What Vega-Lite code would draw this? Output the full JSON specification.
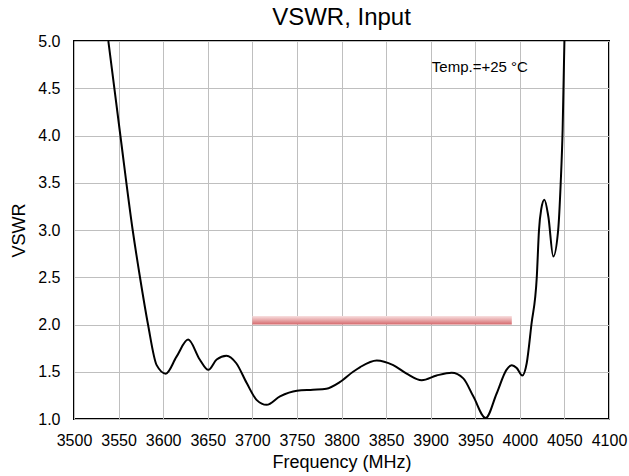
{
  "$schema": "https://vega.github.io/schema/vega-lite/v6.json",
  "autosize": {"type": "none"},
  "width": 535,
  "height": 378,
  "padding": {"left": 74, "top": 41, "right": 20, "bottom": 57},
  "background": "white",
  "title": {"text": "VSWR, Input", "font": "Liberation Sans", "fontSize": 24, "fontWeight": "normal", "color": "black", "offset": 3, "anchor": "middle"},
  "config": {
    "view": {"stroke": "black", "strokeWidth": 2},
    "axis": {"labelFont": "Liberation Sans", "titleFont": "Liberation Sans", "labelColor": "black", "titleColor": "black", "gridColor": "#bfbfbf", "gridWidth": 1, "ticks": false, "domain": false, "labelFontSize": 16, "titleFontSize": 18, "titleFontWeight": "normal"}
  },
  "datasets": {
    "curve": [
      {"f": 3538.5, "v": 5.0}, {"f": 3552, "v": 4.0}, {"f": 3565.8, "v": 3.0}, {"f": 3574, "v": 2.5},
      {"f": 3583, "v": 2.0}, {"f": 3592.7, "v": 1.57}, {"f": 3603, "v": 1.48}, {"f": 3615, "v": 1.66},
      {"f": 3628, "v": 1.84}, {"f": 3641, "v": 1.63}, {"f": 3650.6, "v": 1.52}, {"f": 3660, "v": 1.63},
      {"f": 3671, "v": 1.67}, {"f": 3682, "v": 1.59}, {"f": 3693.7, "v": 1.38}, {"f": 3705, "v": 1.2},
      {"f": 3716, "v": 1.15}, {"f": 3731, "v": 1.24}, {"f": 3750, "v": 1.3}, {"f": 3768, "v": 1.31},
      {"f": 3783, "v": 1.32}, {"f": 3798, "v": 1.39}, {"f": 3813, "v": 1.5}, {"f": 3821, "v": 1.55},
      {"f": 3839.5, "v": 1.62}, {"f": 3858, "v": 1.57}, {"f": 3873, "v": 1.48}, {"f": 3890, "v": 1.41},
      {"f": 3906.7, "v": 1.46}, {"f": 3923.5, "v": 1.49}, {"f": 3936.6, "v": 1.43}, {"f": 3947.8, "v": 1.24},
      {"f": 3961.7, "v": 1.01}, {"f": 3974, "v": 1.27}, {"f": 3985, "v": 1.52}, {"f": 3991, "v": 1.57},
      {"f": 3996.5, "v": 1.54}, {"f": 4002.8, "v": 1.46}, {"f": 4007.7, "v": 1.59}, {"f": 4013, "v": 2.0},
      {"f": 4019, "v": 2.5}, {"f": 4021.5, "v": 3.0}, {"f": 4024, "v": 3.22}, {"f": 4027.5, "v": 3.32},
      {"f": 4032, "v": 3.14}, {"f": 4037.5, "v": 2.72}, {"f": 4043, "v": 3.0}, {"f": 4045.8, "v": 3.49},
      {"f": 4048, "v": 4.06}, {"f": 4050, "v": 5.0}
    ],
    "spec": [{"f1": 3700, "f2": 3991, "v1": 2.0, "v2": 2.09}],
    "note": [{"f": 4009, "v": 4.72, "label": "Temp.=+25 °C"}]
  },
  "layer": [
    {
      "data": {"name": "spec"},
      "mark": {"type": "rect", "color": {"gradient": "linear", "x1": 0, "y1": 0, "x2": 0, "y2": 1, "stops": [{"offset": 0, "color": "#f8e0e0"}, {"offset": 0.6, "color": "#e49a9c"}, {"offset": 1, "color": "#d4686c"}]}},
      "encoding": {
        "x": {"field": "f1", "type": "quantitative", "scale": {"domain": [3500, 4100], "nice": false}, "axis": {"values": [3500, 3550, 3600, 3650, 3700, 3750, 3800, 3850, 3900, 3950, 4000, 4050, 4100], "format": "d", "title": "Frequency (MHz)", "labelOverlap": false, "labelFlush": false, "labelPadding": 13, "titlePadding": 5}},
        "x2": {"field": "f2"},
        "y": {"field": "v1", "type": "quantitative", "scale": {"domain": [1, 5], "nice": false}, "axis": {"values": [1, 1.5, 2, 2.5, 3, 3.5, 4, 4.5, 5], "format": ".1f", "title": "VSWR", "labelPadding": 14, "titlePadding": 9}},
        "y2": {"field": "v2"}
      }
    },
    {
      "data": {"name": "curve"},
      "mark": {"type": "line", "color": "black", "strokeWidth": 2, "interpolate": "monotone", "clip": true},
      "encoding": {
        "x": {"field": "f", "type": "quantitative"},
        "y": {"field": "v", "type": "quantitative"}
      }
    },
    {
      "data": {"name": "note"},
      "mark": {"type": "text", "align": "right", "baseline": "middle", "font": "Liberation Sans", "fontSize": 15, "color": "black"},
      "encoding": {
        "x": {"field": "f", "type": "quantitative"},
        "y": {"field": "v", "type": "quantitative"},
        "text": {"field": "label"}
      }
    }
  ]
}
